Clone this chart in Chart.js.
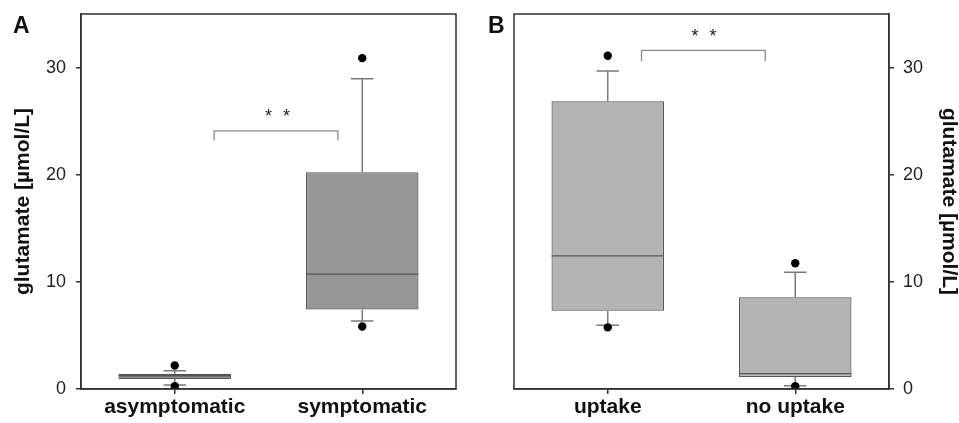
<!DOCTYPE html>
<html>
<head>
<meta charset="utf-8">
<script src="https://cdn.jsdelivr.net/npm/chart.js@4/dist/chart.umd.min.js"></script>
<style>
  html, body { margin: 0; padding: 0; background: #fff; }
  #wrap { position: relative; width: 959px; height: 423px; overflow: hidden; }
  canvas { position: absolute; top: 0; }
</style>
</head>
<body>
<div id="wrap">
  <canvas id="chartA" width="480" height="423" style="left:0"></canvas>
  <canvas id="chartB" width="479" height="423" style="left:480px"></canvas>
</div>
<script>
// ---------- data ----------
const categoriesA = ['asymptomatic', 'symptomatic'];
const q1A = [0.93, 7.43];
const medianA = [1.24, 10.72];
const q3A = [1.43, 20.23];
const whiskerLowA = [0.37, 6.34];
const whiskerHighA = [1.70, 28.95];
const outliersA = [[0.25, 2.2], [5.84, 30.88]];

const categoriesB = ['uptake', 'no uptake'];
const q1B = [7.30, 1.12];
const medianB = [12.42, 1.43];
const q3B = [26.85, 8.57];
const whiskerLowB = [5.96, 0.31];
const whiskerHighB = [29.67, 10.9];
const outliersB = [[5.75, 31.1], [0.25, 11.74]];

const yTicks = [0, 10, 20, 30];
const yMax = 35;
const yTitle = 'glutamate [µmol/L]';

// significance brackets: [x start, x end (category units), bar level, end level]
const bracketA = [0.21, 0.87, 24.1, 23.2];
const bracketB = [0.18, 0.84, 31.6, 30.6];
// star marks: [x centre (category units), level]
const starsA = [0.548, 25.83];
const starsB = [0.513, 33.35];
const panelLetters = ['A', 'B'];

// ---------- drawing ----------
const FONT = "'Liberation Sans', Arial, Helvetica, sans-serif";
const AXIS = '#333333';

const boxPlugin = {
  id: 'boxParts',
  afterDatasetDraw(chart, args, opts) {
    if (args.index !== 0) return;
    const ctx = chart.ctx;
    const y = chart.scales.y;
    const meta = args.meta;
    ctx.save();
    meta.data.forEach((bar, i) => {
      const cx = bar.x;
      const half = bar.width / 2;
      const cap = bar.width * 0.1;
      // whiskers
      ctx.strokeStyle = '#7a7a7a';
      ctx.lineWidth = 1.5;
      ctx.beginPath();
      ctx.moveTo(cx, y.getPixelForValue(opts.q3[i]));
      ctx.lineTo(cx, y.getPixelForValue(opts.hi[i]));
      ctx.moveTo(cx - cap, y.getPixelForValue(opts.hi[i]));
      ctx.lineTo(cx + cap, y.getPixelForValue(opts.hi[i]));
      ctx.moveTo(cx, y.getPixelForValue(opts.q1[i]));
      ctx.lineTo(cx, y.getPixelForValue(opts.lo[i]));
      ctx.moveTo(cx - cap, y.getPixelForValue(opts.lo[i]));
      ctx.lineTo(cx + cap, y.getPixelForValue(opts.lo[i]));
      ctx.stroke();
      // median
      ctx.strokeStyle = '#555555';
      ctx.lineWidth = 1.3;
      ctx.beginPath();
      const my = y.getPixelForValue(opts.med[i]);
      ctx.moveTo(cx - half, my);
      ctx.lineTo(cx + half, my);
      ctx.stroke();
    });
    ctx.restore();
  },
  afterDraw(chart, args, opts) {
    const ctx = chart.ctx;
    const {x, y} = chart.scales;
    const a = chart.chartArea;
    ctx.save();
    // frame
    ctx.strokeStyle = AXIS;
    ctx.lineWidth = 1.5;
    ctx.strokeRect(a.left, a.top, a.right - a.left, a.bottom - a.top);
    // bracket
    const b = opts.bracket;
    ctx.strokeStyle = '#8a8a8a';
    ctx.lineWidth = 1.3;
    ctx.beginPath();
    ctx.moveTo(x.getPixelForValue(b[0]), y.getPixelForValue(b[3]));
    ctx.lineTo(x.getPixelForValue(b[0]), y.getPixelForValue(b[2]));
    ctx.lineTo(x.getPixelForValue(b[1]), y.getPixelForValue(b[2]));
    ctx.lineTo(x.getPixelForValue(b[1]), y.getPixelForValue(b[3]));
    ctx.stroke();
    // stars
    const s = opts.stars;
    ctx.fillStyle = '#222';
    ctx.font = '18px ' + FONT;
    ctx.textAlign = 'center';
    ctx.textBaseline = 'alphabetic';
    const sx = x.getPixelForValue(s[0]);
    const sy = y.getPixelForValue(s[1]) + 10;
    ctx.fillText('*', sx - 9, sy);
    ctx.fillText('*', sx + 9, sy);
    // panel letter
    ctx.font = 'bold 23px ' + FONT;
    ctx.textAlign = 'left';
    ctx.fillStyle = '#111';
    ctx.fillText(opts.letter, opts.letterX, 33);
    ctx.restore();
  }
};

function makePanel(canvasId, cats, q1, med, q3, lo, hi, outl, fill, side, bracket, stars, letter) {
  const outlierPts = [];
  outl.forEach((arr, i) => arr.forEach(v => outlierPts.push({x: cats[i], y: v})));
  const isLeft = side === 'left';
  return new Chart(document.getElementById(canvasId), {
    type: 'bar',
    data: {
      labels: cats,
      datasets: [
        {
          type: 'bar',
          data: q1.map((v, i) => [v, q3[i]]),
          backgroundColor: fill,
          borderColor: '#555555',
          borderWidth: 1.2,
          borderSkipped: false,
          barPercentage: 0.6,
          categoryPercentage: 1.0,
          order: 2
        },
        {
          type: 'line',
          data: outlierPts,
          showLine: false,
          pointRadius: 4.2,
          pointBackgroundColor: '#000',
          pointBorderColor: '#000',
          pointBorderWidth: 0,
          order: 1
        }
      ]
    },
    options: {
      responsive: false,
      animation: false,
      devicePixelRatio: 1,
      layout: { padding: { top: 14, right: isLeft ? 24 : 0, left: isLeft ? 0 : 34, bottom: 0 } },
      plugins: {
        legend: { display: false },
        tooltip: { enabled: false },
        boxParts: { q1, med, q3, lo, hi, bracket, stars, letter, letterX: isLeft ? 13 : 8 }
      },
      scales: {
        x: {
          type: 'category',
          offset: true,
          grid: { display: true, drawOnChartArea: false, drawTicks: true, tickLength: 5, offset: false, color: AXIS, lineWidth: 1.5 },
          border: { display: true, color: AXIS, width: 1.5 },
          ticks: { color: '#111', padding: 1, font: { family: FONT, size: 21, weight: 'bold' }, maxRotation: 0 },
          afterFit(s) { s.height = 34; s.paddingLeft = 0; s.paddingRight = 0; }
        },
        y: {
          type: 'linear',
          position: side,
          min: 0,
          max: yMax,
          grid: { display: true, drawOnChartArea: false, drawTicks: true, tickLength: 5, color: AXIS, lineWidth: 1.5 },
          border: { display: true, color: AXIS, width: 1.5 },
          ticks: { color: '#222', padding: isLeft ? 10 : 9, font: { family: FONT, size: 18 } },
          afterBuildTicks(s) { s.ticks = yTicks.map(v => ({ value: v })); },
          title: {
            display: true,
            text: yTitle,
            color: '#111',
            font: { family: FONT, size: 21, weight: 'bold', lineHeight: 1 },
            padding: { top: isLeft ? 13 : 0, bottom: 0 }
          },
          afterFit(s) { s.width = isLeft ? 81 : 70; s.paddingTop = 0; s.paddingBottom = 0; }
        }
      }
    },
    plugins: [boxPlugin]
  });
}

makePanel('chartA', categoriesA, q1A, medianA, q3A, whiskerLowA, whiskerHighA, outliersA,
  ['#7c7c7c', '#979797'], 'left', bracketA, starsA, panelLetters[0]);
makePanel('chartB', categoriesB, q1B, medianB, q3B, whiskerLowB, whiskerHighB, outliersB,
  '#b4b4b4', 'right', bracketB, starsB, panelLetters[1]);
</script>
</body>
</html>
